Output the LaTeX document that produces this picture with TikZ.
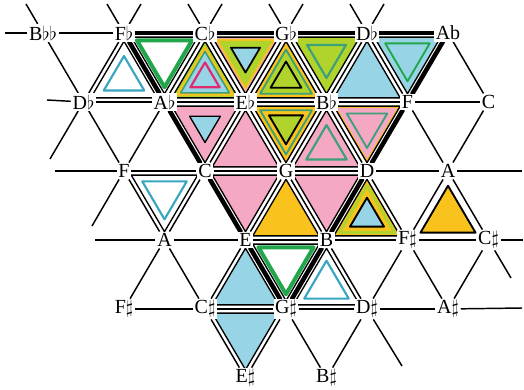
\documentclass[tikz,border=0pt]{standalone}
\usepackage{fontspec}
\setmainfont{Liberation Serif}
\usetikzlibrary{calc}
\pgfdeclarelayer{background}
\pgfsetlayers{background,main}

\definecolor{pinkc}{RGB}{245,168,196}
\definecolor{bluec}{RGB}{150,212,230}
\definecolor{goldc}{RGB}{249,194,28}
\definecolor{limec}{RGB}{176,212,44}
\definecolor{greenc}{RGB}{34,166,76}
\definecolor{tealc}{RGB}{56,166,192}
\definecolor{sagec}{RGB}{60,160,120}
\definecolor{magc}{RGB}{226,40,110}

\tikzset{
  note/.style={fill=white, inner sep=1.2pt, font=\fontsize{15}{17}\selectfont},
  grid/.style={line width=1.1pt},
  bold/.style={line width=3.4pt, line cap=round},
  rim/.style={draw=black, line width=1pt, line join=round},
}

% triangle shrunk towards its centre: scale, options, three corners
\newcommand{\chordtri}[5]{%
  \coordinate (ctr) at (barycentric cs:#3=1,#4=1,#5=1);
  \path[line join=round, #2] ($(ctr)!#1!(#3.center)$) -- ($(ctr)!#1!(#4.center)$)
    -- ($(ctr)!#1!(#5.center)$) -- cycle;}

\begin{document}
\begin{tikzpicture}[x=0.75pt, y=-0.75pt]
  \useasboundingbox (0,0) rectangle (524,389);
  % note names, row r, half-step k
  \foreach \r/\k/\t in {0/0/B$\flat\flat$, 0/2/F$\flat$, 0/4/C$\flat$, 0/6/G$\flat$, 0/8/D$\flat$, 0/10/Ab,
      1/1/D$\flat$, 1/3/A$\flat$, 1/5/E$\flat$, 1/7/B$\flat$, 1/9/F, 1/11/C,
      2/2/F, 2/4/C, 2/6/G, 2/8/D, 2/10/A,
      3/3/A, 3/5/E, 3/7/B, 3/9/F$\sharp$, 3/11/C$\sharp$,
      4/2/F$\sharp$, 4/4/C$\sharp$, 4/6/G$\sharp$, 4/8/D$\sharp$, 4/10/A$\sharp$,
      5/5/E$\sharp$, 5/7/B$\sharp$}
    \node[note] (r\r k\k) at ({43+40.5*\k},{33+69*\r}) {\t};

  % loose ends at the border
  \coordinate (tBbb) at (26,4);
  \coordinate (tFbL) at (107,4);
  \coordinate (tFbR) at (141,4);
  \coordinate (tCbL) at (188,4);
  \coordinate (tCbR) at (222,4);
  \coordinate (tGbL) at (269,4);
  \coordinate (tGbR) at (303,4);
  \coordinate (tDbL) at (350,4);
  \coordinate (tDbR) at (384,4);
  \coordinate (lBbb) at (5,33);
  \coordinate (lDb) at (47,100);
  \coordinate (dDb) at (50,159);
  \coordinate (lF) at (55,171);
  \coordinate (dF) at (92,226);
  \coordinate (lA) at (95,240);
  \coordinate (rA) at (522,171);
  \coordinate (rCs) at (523,240);
  \coordinate (dCs) at (511,278);
  \coordinate (rAs) at (522,308);
  \coordinate (dDs) at (402,366);

  \begin{pgfonlayer}{background}
  \foreach \a/\b in {r0k0/tBbb, r0k2/tFbL, r0k2/tFbR, r0k4/tCbL, r0k4/tCbR, r0k6/tGbL, r0k6/tGbR,
      r0k8/tDbL, r0k8/tDbR, r0k0/lBbb, r1k1/lDb, r1k1/dDb, r2k2/lF, r2k2/dF, r3k3/lA,
      r2k10/rA, r3k11/rCs, r3k11/dCs, r4k10/rAs, r4k8/dDs}
    \draw[grid] (\a) -- (\b);

  % the lattice
  \foreach \a/\b in {r0k0/r0k2, r1k1/r1k3, r1k3/r1k5, r1k5/r1k7, r1k7/r1k9, r1k9/r1k11,
      r2k2/r2k4, r2k4/r2k6, r2k6/r2k8, r2k8/r2k10,
      r3k3/r3k5, r3k5/r3k7, r3k7/r3k9, r3k9/r3k11,
      r4k2/r4k4, r4k4/r4k6, r4k6/r4k8, r4k8/r4k10,
      r0k0/r1k1, r0k2/r1k1, r0k4/r1k3, r0k4/r1k5, r0k6/r1k5, r0k6/r1k7, r0k8/r1k7, r0k8/r1k9, r0k10/r1k11,
      r1k1/r2k2, r1k3/r2k2, r1k5/r2k4, r1k5/r2k6, r1k7/r2k6, r1k7/r2k8, r1k9/r2k10, r1k11/r2k10,
      r2k2/r3k3, r2k4/r3k3, r2k6/r3k5, r2k6/r3k7, r2k8/r3k9, r2k10/r3k9, r2k10/r3k11,
      r3k3/r4k2, r3k3/r4k4, r3k5/r4k4, r3k7/r4k8, r3k9/r4k8, r3k9/r4k10, r3k11/r4k10,
      r4k4/r5k5, r4k6/r5k5, r4k6/r5k7, r4k8/r5k7}
    \draw[grid] (\a) -- (\b);

  % chords, outer row
  \chordtri{0.82}{rim}{r0k2}{r1k1}{r1k3}
  \chordtri{0.5}{draw=tealc, line width=1.6pt}{r0k2}{r1k1}{r1k3}
  \chordtri{0.82}{rim}{r0k2}{r0k4}{r1k3}
  \chordtri{0.68}{draw=greenc, line width=3pt}{r0k2}{r0k4}{r1k3}
  \chordtri{0.82}{rim, fill=limec}{r0k4}{r1k3}{r1k5}
  \chordtri{0.72}{fill=goldc}{r0k4}{r1k3}{r1k5}
  \chordtri{0.6}{draw=sagec, line width=1.2pt, fill=bluec}{r0k4}{r1k3}{r1k5}
  \chordtri{0.36}{draw=magc, line width=1.6pt, fill=bluec}{r0k4}{r1k3}{r1k5}
  \chordtri{0.82}{rim, fill=pinkc}{r0k4}{r0k6}{r1k5}
  \chordtri{0.74}{fill=goldc}{r0k4}{r0k6}{r1k5}
  \chordtri{0.66}{fill=limec}{r0k4}{r0k6}{r1k5}
  \chordtri{0.36}{rim, line width=1.3pt, fill=bluec}{r0k4}{r0k6}{r1k5}
  \chordtri{0.82}{rim, fill=goldc}{r0k6}{r1k5}{r1k7}
  \chordtri{0.64}{draw=sagec, line width=1.4pt, fill=limec}{r0k6}{r1k5}{r1k7}
  \chordtri{0.38}{rim, line width=1.4pt, fill=limec}{r0k6}{r1k5}{r1k7}
  \chordtri{0.82}{rim, fill=limec}{r0k6}{r0k8}{r1k7}
  \chordtri{0.48}{draw=sagec, line width=1.6pt}{r0k6}{r0k8}{r1k7}
  \chordtri{0.82}{rim, fill=bluec}{r0k8}{r1k7}{r1k9}
  \chordtri{0.82}{rim, fill=bluec}{r0k8}{r0k10}{r1k9}
  \chordtri{0.55}{draw=greenc, line width=1.4pt}{r0k8}{r0k10}{r1k9}
  % second row
  \chordtri{0.82}{rim, fill=pinkc}{r1k3}{r1k5}{r2k4}
  \chordtri{0.38}{rim, fill=bluec}{r1k3}{r1k5}{r2k4}
  \chordtri{0.82}{rim, fill=pinkc}{r1k5}{r2k4}{r2k6}
  \chordtri{0.82}{rim, fill=goldc}{r1k5}{r1k7}{r2k6}
  \chordtri{0.64}{draw=sagec, line width=1.4pt}{r1k5}{r1k7}{r2k6}
  \chordtri{0.42}{rim, line width=1.4pt, fill=limec}{r1k5}{r1k7}{r2k6}
  \chordtri{0.82}{rim, fill=pinkc}{r1k7}{r2k6}{r2k8}
  \chordtri{0.5}{draw=sagec, line width=1.6pt}{r1k7}{r2k6}{r2k8}
  \chordtri{0.82}{rim, fill=goldc}{r1k7}{r1k9}{r2k8}
  \chordtri{0.74}{fill=pinkc}{r1k7}{r1k9}{r2k8}
  \chordtri{0.5}{draw=sagec, line width=1.4pt}{r1k7}{r1k9}{r2k8}
  % third row
  \chordtri{0.82}{rim}{r2k2}{r2k4}{r3k3}
  \chordtri{0.55}{draw=tealc, line width=1.6pt}{r2k2}{r2k4}{r3k3}
  \chordtri{0.82}{rim, fill=pinkc}{r2k4}{r2k6}{r3k5}
  \chordtri{0.82}{rim, fill=goldc}{r2k6}{r3k5}{r3k7}
  \chordtri{0.82}{rim, fill=pinkc}{r2k6}{r2k8}{r3k7}
  \chordtri{0.82}{rim, fill=goldc}{r2k8}{r3k7}{r3k9}
  \chordtri{0.68}{draw=limec, line width=2.2pt}{r2k8}{r3k7}{r3k9}
  \chordtri{0.42}{rim, line width=1.4pt, fill=bluec}{r2k8}{r3k7}{r3k9}
  \chordtri{0.68}{rim, line width=1.4pt, fill=goldc}{r2k10}{r3k9}{r3k11}
  % fourth and fifth row
  \chordtri{0.82}{rim, fill=bluec}{r3k5}{r4k4}{r4k6}
  \chordtri{0.82}{rim}{r3k5}{r3k7}{r4k6}
  \chordtri{0.68}{draw=greenc, line width=3pt}{r3k5}{r3k7}{r4k6}
  \chordtri{0.82}{rim}{r3k7}{r4k6}{r4k8}
  \chordtri{0.55}{draw=tealc, line width=1.6pt}{r3k7}{r4k6}{r4k8}
  \chordtri{0.82}{rim, fill=bluec}{r4k4}{r4k6}{r5k5}

  % heavy outline
  \foreach \a/\b in {r0k2/r0k4, r0k4/r0k6, r0k6/r0k8, r0k8/r0k10, r0k10/r1k9, r1k9/r2k8,
      r2k8/r3k7, r3k7/r4k6, r4k6/r3k5, r3k5/r2k4, r2k4/r1k3, r1k3/r0k2}
    \draw[bold] (\a) -- (\b);
  \end{pgfonlayer}
\end{tikzpicture}
\end{document}
